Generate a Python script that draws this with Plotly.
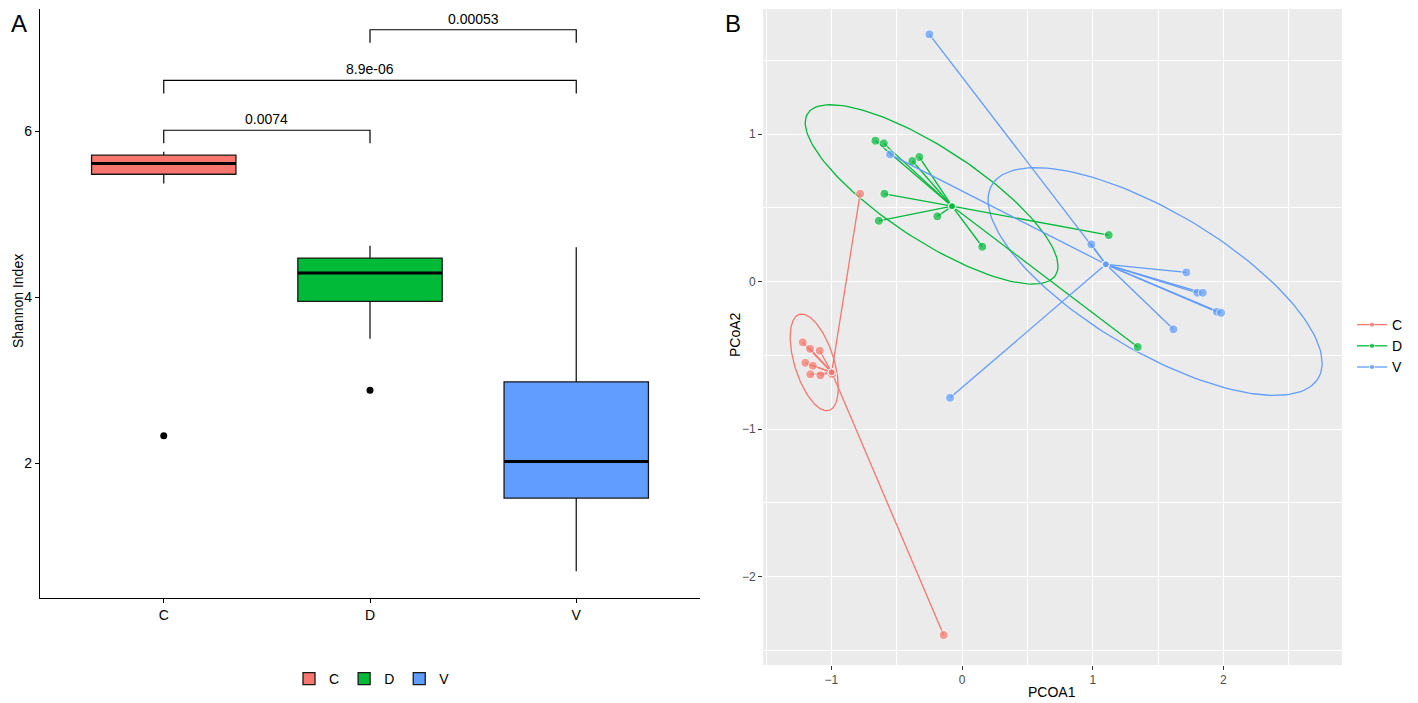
import numpy as np
import plotly.graph_objects as go

# ---------------- Panel A data (Shannon index box plots) ----------------
groups = ["C", "D", "V"]
colors = ["#F8766D", "#00BA38", "#619CFF"]
q1 = [5.48, 3.95, 1.58]
median = [5.61, 4.29, 2.02]
q3 = [5.71, 4.47, 2.98]
lowerfence = [5.37, 3.50, 0.70]
upperfence = [5.75, 4.62, 4.60]
outlier_group = ["C", "D"]
outlier_value = [2.33, 2.88]

comparisons = [("C", "D"), ("C", "V"), ("D", "V")]
p_values = ["0.0074", "8.9e-06", "0.00053"]
bracket_y = [6.01, 6.61, 7.22]

# ---------------- Panel B data (PCoA) ----------------
c_x = [-1.219, -1.163, -1.089, -1.199, -1.142, -1.161, -1.084, -0.995, -0.780, -0.141]
c_y = [-0.412, -0.456, -0.469, -0.551, -0.571, -0.629, -0.636, -0.627, 0.595, -2.397]
d_x = [-0.663, -0.599, -0.327, -0.380, -0.594, -0.637, -0.189, 0.155, 1.122, 1.344]
d_y = [0.955, 0.937, 0.844, 0.817, 0.595, 0.412, 0.442, 0.236, 0.315, -0.444]
v_x = [-0.250, -0.551, 0.989, 1.716, 1.800, 1.842, 1.949, 1.982, 1.617, -0.092]
v_y = [1.676, 0.862, 0.252, 0.062, -0.076, -0.076, -0.205, -0.212, -0.324, -0.788]

# 95% ellipses: centre, half-extent in x / y, correlation
ell_cx = [-1.131, -0.233, 1.477]
ell_cy = [-0.548, 0.591, 0.000]
ell_hx = [0.184, 0.967, 1.278]
ell_hy = [0.328, 0.608, 0.772]
ell_r = [-0.52, -0.80, -0.716]

FONT = "Liberation Sans, Arial, sans-serif"
OFF = 8                      # page body margin
W, H = 1418 - OFF, 703 - OFF


def px(x):
    return min(1.0, max(0.0, (x - OFF) / W))


def py(y):
    return min(1.0, max(0.0, 1 - (y - OFF) / H))


def ellipse(cx, cy, hx, hy, r, n=160):
    M = np.array([[hx * hx, r * hx * hy], [r * hx * hy, hy * hy]])
    L = np.linalg.cholesky(M)
    t = np.linspace(0, 2 * np.pi, n + 1)
    u = np.vstack([np.cos(t), np.sin(t)])
    p = L @ u
    return cx + p[0], cy + p[1]


fig = go.Figure()

# ---- Panel A ----
box_width = 0.7
pos = {g: i for i, g in enumerate(groups)}
for i, g in enumerate(groups):
    fig.add_trace(go.Box(
        x=[i], q1=[q1[i]], median=[median[i]], q3=[q3[i]],
        lowerfence=[lowerfence[i]], upperfence=[upperfence[i]],
        name=g, fillcolor=colors[i], line=dict(color="#1a1a1a", width=1.3),
        width=box_width, whiskerwidth=0, boxpoints=False,
        xaxis="x", yaxis="y", legend="legend", hoverinfo="skip"))
    fig.add_shape(type="line", xref="x", yref="y",
                  x0=i - box_width / 2, x1=i + box_width / 2,
                  y0=median[i], y1=median[i],
                  line=dict(color="black", width=3))

fig.add_trace(go.Scatter(
    x=[pos[g] for g in outlier_group], y=outlier_value, mode="markers",
    marker=dict(color="black", size=7), showlegend=False,
    xaxis="x", yaxis="y", hoverinfo="skip"))

tick_drop = 0.157
for (a, b), lab, yb in zip(comparisons, p_values, bracket_y):
    xa, xb = pos[a], pos[b]
    fig.add_trace(go.Scatter(
        x=[xa, xa, xb, xb], y=[yb - tick_drop, yb, yb, yb - tick_drop],
        mode="lines", line=dict(color="black", width=1.2),
        showlegend=False, xaxis="x", yaxis="y", hoverinfo="skip"))
    fig.add_annotation(x=(xa + xb) / 2, y=yb, xref="x", yref="y", text=lab,
                       showarrow=False, xanchor="center", yanchor="bottom",
                       yshift=1, font=dict(size=14, color="black", family=FONT))

# ---- Panel B ----
pc = [(c_x, c_y), (d_x, d_y), (v_x, v_y)]
for i, g in enumerate(groups):
    ex, ey = ellipse(ell_cx[i], ell_cy[i], ell_hx[i], ell_hy[i], ell_r[i])
    fig.add_trace(go.Scatter(
        x=ex, y=ey, mode="lines", line=dict(color=colors[i], width=1.3),
        showlegend=False, xaxis="x2", yaxis="y2", hoverinfo="skip"))

for i, g in enumerate(groups):
    xs, ys = pc[i]
    cx, cy = float(np.mean(xs)), float(np.mean(ys))
    sx, sy, sz = [], [], []
    for x, y in zip(xs, ys):
        sx += [cx, x, None]
        sy += [cy, y, None]
        sz += [7, 9, 0]
    fig.add_trace(go.Scatter(
        x=sx, y=sy, mode="lines+markers", name=g,
        line=dict(color=colors[i], width=1.3),
        marker=dict(color=colors[i], size=sz),
        xaxis="x2", yaxis="y2", legend="legend2", hoverinfo="skip"))

# grey panel background for B
fig.add_shape(type="rect", xref="x2 domain", yref="y2 domain",
              x0=0, x1=1, y0=0, y1=1, fillcolor="#EBEBEB",
              line=dict(width=0), layer="below")

axA = dict(showline=True, linecolor="black", linewidth=1.3, ticks="outside",
           ticklen=4, tickcolor="black", tickwidth=1, showgrid=False,
           zeroline=False, automargin=False,
           tickfont=dict(size=14, color="black", family=FONT))
axB = dict(showline=False, ticks="outside", ticklen=4, tickcolor="#333333",
           tickwidth=1, showgrid=True, gridcolor="white", gridwidth=1.2,
           zeroline=False, automargin=False,
           tickfont=dict(size=12, color="#4D4D4D", family=FONT))

fig.update_layout(
    width=W, height=H,
    margin=dict(l=0, r=0, t=0, b=0),
    paper_bgcolor="white", plot_bgcolor="white",
    font=dict(family=FONT, color="black"),
    xaxis=dict(axA, domain=[px(40), px(700)], range=[-0.6, 2.6],
               tickvals=[0, 1, 2], ticktext=groups, anchor="y"),
    yaxis=dict(axA, domain=[py(598), py(9)], range=[0.377, 7.47],
               tickvals=[2, 4, 6], anchor="x"),
    xaxis2=dict(axB, domain=[px(763), px(1342)], range=[-1.523, 2.907],
                tickvals=[-1, 0, 1, 2], anchor="y2",
                minor=dict(tickvals=[-1.5, -0.5, 0.5, 1.5, 2.5], showgrid=True,
                           gridcolor="white", gridwidth=0.6, ticks="")),
    yaxis2=dict(axB, domain=[py(665), py(9)], range=[-2.600, 1.848],
                tickvals=[-2, -1, 0, 1], anchor="x2",
                minor=dict(tickvals=[-2.5, -1.5, -0.5, 0.5, 1.5], showgrid=True,
                           gridcolor="white", gridwidth=0.6, ticks="")),
    legend=dict(orientation="h", x=px(372), xanchor="center", y=py(679),
                yanchor="middle", font=dict(size=14, family=FONT),
                bgcolor="rgba(0,0,0,0)", itemwidth=30),
    legend2=dict(x=px(1352), xanchor="left", y=py(346), yanchor="middle",
                 font=dict(size=14, family=FONT), bgcolor="rgba(0,0,0,0)",
                 itemwidth=30),
    showlegend=True,
)


# axis titles and panel tags
def label(text, x, y, size, angle=0):
    fig.add_annotation(text=text, x=px(x), y=py(y), xref="paper", yref="paper",
                       textangle=angle, showarrow=False, xanchor="center",
                       yanchor="middle",
                       font=dict(size=size, color="black", family=FONT))


label("Shannon Index", 18, 301, 14, -90)
label("PCOA1", 1052, 692, 14)
label("PCoA2", 735, 335, 14, -90)
label("A", 19, 24, 24)
label("B", 733, 24, 24)

fig.write_html("out.html")
